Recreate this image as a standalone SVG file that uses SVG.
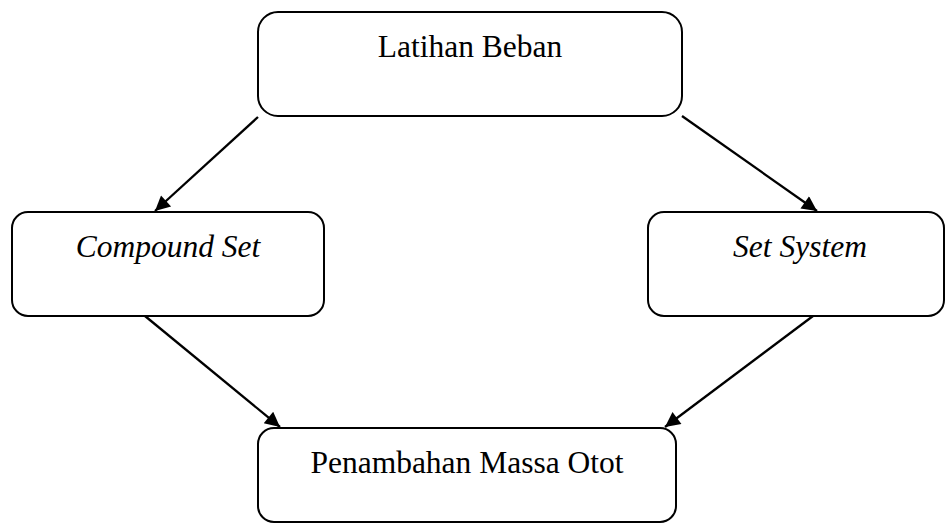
<svg xmlns="http://www.w3.org/2000/svg" width="947" height="526" viewBox="0 0 947 526">
<style>
.box{fill:#fff;stroke:#000;stroke-width:2}
.t{font-family:"Liberation Serif","Times New Roman",serif;font-size:31.5px;fill:#000;text-anchor:middle}
.i{font-style:italic}
.c{stroke:#000;stroke-width:2.3;fill:none}
</style>
<defs>
<marker id="ah" viewBox="0 0 10 10" refX="10" refY="5" markerWidth="7.5" markerHeight="6.5" markerUnits="strokeWidth" orient="auto">
<path d="M0,0 L10,5 L0,10 z" fill="#000"/>
</marker>
</defs>
<rect width="947" height="526" fill="#fff"/>
<g id="connectors">
<line class="c" x1="258" y1="117" x2="155" y2="211" marker-end="url(#ah)"/>
<line class="c" x1="682" y1="116" x2="817" y2="211" marker-end="url(#ah)"/>
<line class="c" x1="145" y1="316" x2="280" y2="427" marker-end="url(#ah)"/>
<line class="c" x1="813" y1="316" x2="665" y2="427" marker-end="url(#ah)"/>
</g>
<g id="latihan">
<rect class="box" x="258" y="12" width="424" height="104" rx="20"/>
<text class="t" x="470" y="57">Latihan Beban</text>
</g>
<g id="compound">
<rect class="box" x="12" y="212" width="312" height="104" rx="16"/>
<text class="t i" x="168" y="257">Compound Set</text>
</g>
<g id="setsystem">
<rect class="box" x="648" y="212" width="296" height="104" rx="16"/>
<text class="t i" x="800" y="257">Set System</text>
</g>
<g id="penambahan">
<rect class="box" x="258" y="428" width="418" height="94" rx="16"/>
<text class="t" x="467" y="473">Penambahan Massa Otot</text>
</g>
</svg>
